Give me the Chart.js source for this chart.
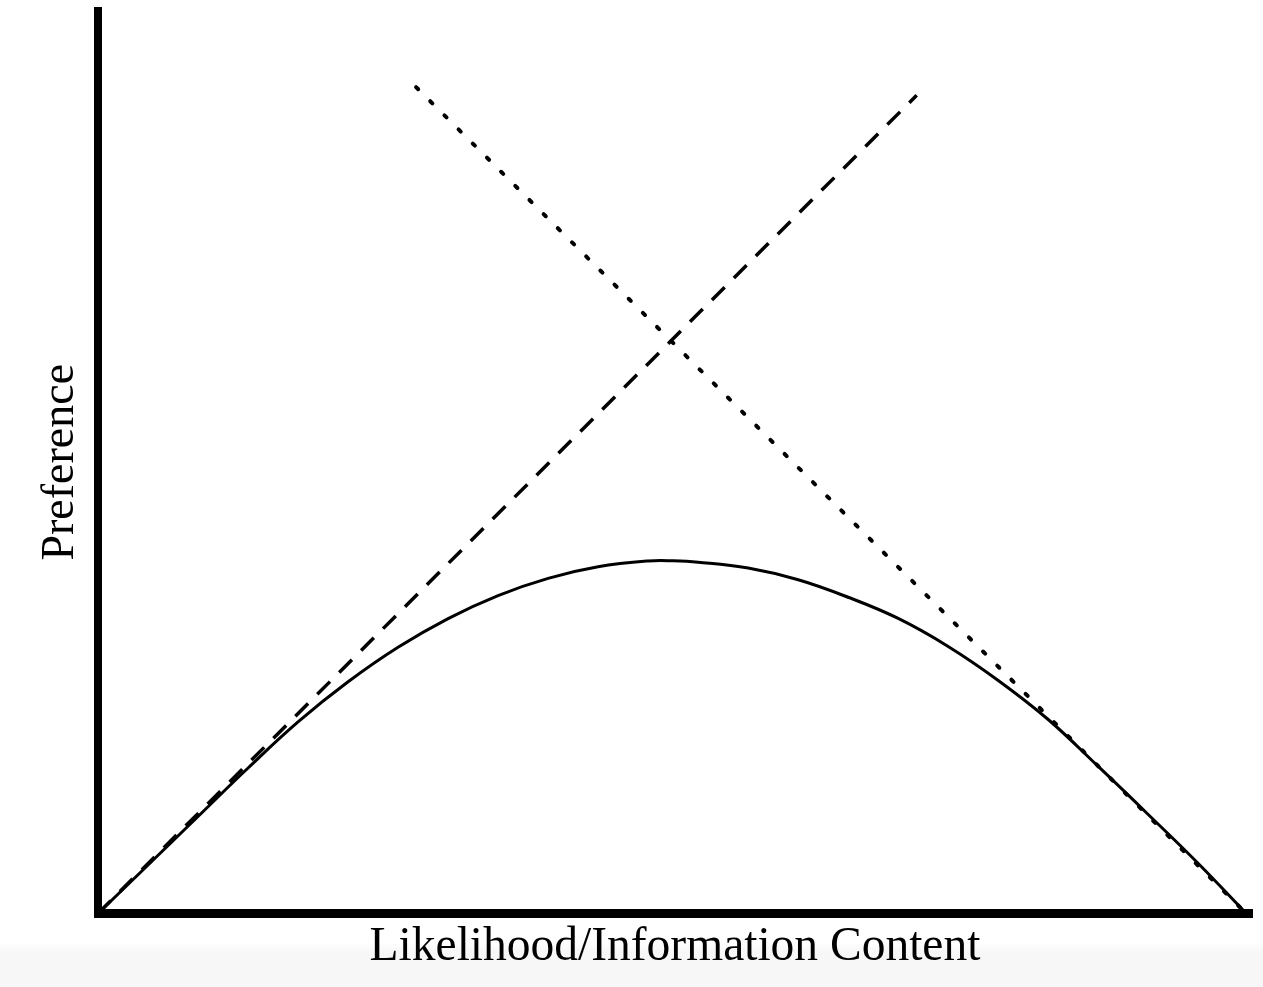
<!DOCTYPE html>
<html>
<head>
<meta charset="utf-8">
<title>Preference vs Likelihood/Information Content</title>
<script src="https://cdn.jsdelivr.net/npm/chart.js@4.4.1/dist/chart.umd.min.js"></script>
<style>
    html, body {
        margin: 0;
        padding: 0;
        width: 1263px;
        height: 987px;
        overflow: hidden;
        background: linear-gradient(to bottom, #ffffff 0px, #ffffff 942px, #f7f7f7 952px, #f7f7f7 987px);
    }
    canvas { display: block; }
</style>
</head>
<body>
<canvas id="prefChart" width="1263" height="987"></canvas>
<script>
// 곡선 (선호도) - 그림에서 읽은 값
const curveX = [0, 4.36, 8.71, 13.07, 17.42, 21.78, 26.13, 30.49, 34.84, 39.2, 43.55, 47.91, 50.09,
    52.26, 56.62, 60.98, 65.33, 69.69, 74.04, 78.4, 82.75, 87.11, 91.46, 95.82, 100];
const curveY = [0, 5.35, 10.71, 16.06, 21.14, 25.57, 29.38, 32.55, 35.09, 36.99, 38.26, 38.9, 38.92,
    38.77, 38.12, 36.83, 34.9, 32.56, 29.47, 25.72, 21.41, 16.23, 10.93, 5.52, 0];

// 점선/파선 직선
const dashX = [0, 71.3];
const dashY = [0, 90.3];
const dotX = [27.7, 100];
const dotY = [91.2, 0];

const xTitle = 'Likelihood/Information Content';
const yTitle = 'Preference';

const toPoints = (xs, ys) => xs.map((x, i) => ({x: x, y: ys[i]}));

const serif = '"Liberation Serif", "Times New Roman", serif';

const ctx = document.getElementById('prefChart').getContext('2d');

new Chart(ctx, {
    type: 'scatter',
    data: {
        datasets: [
            {
                label: 'dashed',
                data: toPoints(dashX, dashY),
                showLine: true,
                borderColor: '#000',
                borderWidth: 3.5,
                borderDash: [18, 13],
                pointRadius: 0,
            },
            {
                label: 'dotted',
                data: toPoints(dotX, dotY),
                showLine: true,
                borderColor: '#000',
                borderWidth: 4,
                borderDash: [3, 17],
                borderCapStyle: 'round',
                pointRadius: 0,
            },
            {
                label: 'curve',
                data: toPoints(curveX, curveY),
                showLine: true,
                borderColor: '#000',
                borderWidth: 3,
                tension: 0.4,
                pointRadius: 0,
            },
        ],
    },
    options: {
        responsive: false,
        animation: false,
        events: [],
        layout: {
            padding: {top: 11, right: 11, bottom: 0, left: 0},
        },
        plugins: {
            legend: {display: false},
            tooltip: {enabled: false},
        },
        scales: {
            x: {
                type: 'linear',
                min: 0,
                max: 100.5,
                grid: {display: false, drawTicks: false},
                ticks: {display: false},
                border: {display: true, color: '#000', width: 9},
                title: {
                    display: true,
                    text: xTitle,
                    color: '#000',
                    font: {family: serif, size: 47.5, lineHeight: 1},
                    padding: {top: 10, bottom: 16},
                },
            },
            y: {
                type: 'linear',
                min: 0,
                max: 99.6,
                grid: {display: false, drawTicks: false},
                ticks: {display: false},
                border: {display: true, color: '#000', width: 8},
                title: {
                    display: true,
                    text: yTitle,
                    color: '#000',
                    font: {family: serif, size: 46, lineHeight: 1},
                    padding: {top: 38, bottom: 14},
                },
            },
        },
    },
});
</script>
</body>
</html>
